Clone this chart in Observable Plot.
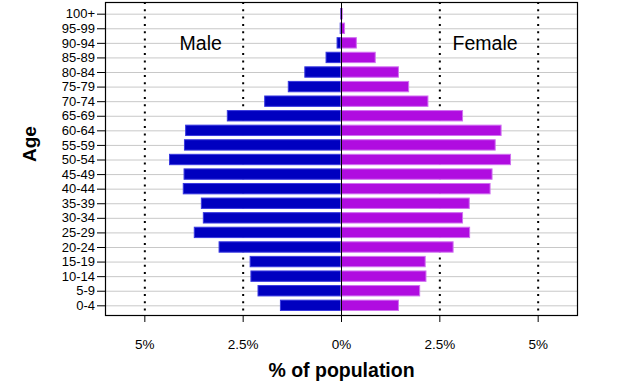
<!DOCTYPE html>
<html>
<head>
<meta charset="utf-8">
<script src="https://cdn.jsdelivr.net/npm/d3@7"></script>
<script src="https://cdn.jsdelivr.net/npm/@observablehq/plot@0.6"></script>
<style>
  body { margin: 0; background: #fff; }
  svg { display: block; }
</style>
</head>
<body>
<div id="chart"></div>
<script>
const ages = ["100+","95-99","90-94","85-89","80-84","75-79","70-74","65-69","60-64","55-59","50-54","45-49","40-44","35-39","30-34","25-29","20-24","15-19","10-14","5-9","0-4"];
const male =   [0.01, 0.02, 0.10, 0.38, 0.92, 1.34, 1.94, 2.89, 3.95, 3.98, 4.36, 3.99, 4.01, 3.55, 3.50, 3.73, 3.10, 2.31, 2.29, 2.11, 1.54];
const female = [0.03, 0.09, 0.39, 0.87, 1.46, 1.72, 2.21, 3.09, 4.07, 3.92, 4.31, 3.84, 3.79, 3.26, 3.09, 3.27, 2.85, 2.14, 2.16, 2.00, 1.46];
const xTicks = [-5, -2.5, 0, 2.5, 5];
const guideLines = [-5, -2.5, 2.5, 5];
const sexLabels = [{x: -3.58, age: "90-94", text: "Male"}, {x: 3.65, age: "90-94", text: "Female"}];

const maleData = ages.map((a, i) => ({age: a, value: -male[i]}));
const femaleData = ages.map((a, i) => ({age: a, value: female[i]}));

const chart = Plot.plot({
  width: 625,
  height: 386,
  marginLeft: 105,
  marginRight: 48,
  marginTop: 2,
  marginBottom: 71,
  style: {fontFamily: "'Liberation Sans', Arial, sans-serif", background: "#fff", color: "#000"},
  x: {domain: [-6, 6]},
  y: {domain: ages, range: [8, 311], paddingInner: 0.22, paddingOuter: 0, round: false},
  marks: [
    Plot.ruleY(ages, {y: d => d, stroke: "#c8c8c8", strokeWidth: 1}),
    Plot.ruleX(guideLines, {stroke: "#000", strokeWidth: 2, strokeDasharray: "2,5.3"}),
    Plot.barX(maleData, {y: "age", x1: 0, x2: "value", fill: "#0000c0", stroke: "#3a3ae0", strokeWidth: 1, insetTop: 0.5, insetBottom: 0.5}),
    Plot.barX(femaleData, {y: "age", x1: 0, x2: "value", fill: "#b00ce0", stroke: "#d070f0", strokeWidth: 1, insetTop: 0.5, insetBottom: 0.5}),
    Plot.ruleX([0], {stroke: "#000", strokeWidth: 1}),
    Plot.frame({stroke: "#000", strokeWidth: 1.2}),
    Plot.axisY({tickSize: 8, tickPadding: 2.5, fontSize: 13, label: null, stroke: "#000"}),
    Plot.axisX({ticks: xTicks, tickSize: 7, tickPadding: 17, fontSize: 13.5, tickFormat: d => Math.abs(d) + "%", label: null}),
    Plot.text(sexLabels, {x: "x", y: "age", text: "text", fontSize: 19.5, fill: "#000"}),
    Plot.text(["% of population"], {frameAnchor: "bottom", lineAnchor: "middle", dy: 55, fontSize: 19.5, fontWeight: "bold", fill: "#000"}),
    Plot.text(["Age"], {frameAnchor: "left", lineAnchor: "middle", dx: -76, dy: 3, rotate: -90, fontSize: 19, fontWeight: "bold", fill: "#000"})
  ]
});
document.getElementById("chart").appendChild(chart);
</script>
</body>
</html>
